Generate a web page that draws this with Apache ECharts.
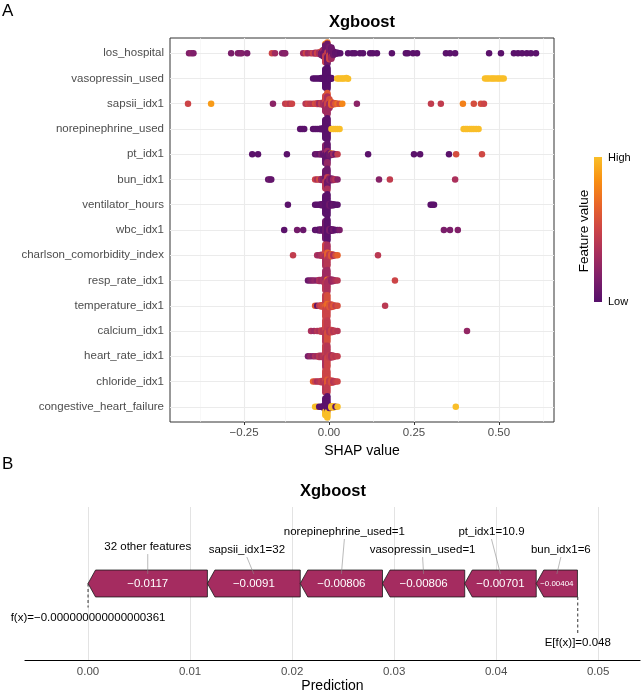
<!DOCTYPE html>
<html>
<head>
<meta charset="utf-8">
<script src="https://cdn.jsdelivr.net/npm/echarts@6/dist/echarts.min.js"></script>
<style>
html, body { margin: 0; padding: 0; background: #fff; }
#main { width: 644px; height: 694px; }
</style>
</head>
<body>
<div id="main"></div>
<script>
// ---- panel A: SHAP beeswarm, each point [shap, featureValue(0..1), count] ----
var features = ['los_hospital', 'vasopressin_used', 'sapsii_idx1', 'norepinephrine_used', 'pt_idx1',
  'bun_idx1', 'ventilator_hours', 'wbc_idx1', 'charlson_comorbidity_index', 'resp_rate_idx1',
  'temperature_idx1', 'calcium_idx1', 'heart_rate_idx1', 'chloride_idx1', 'congestive_heart_failure'];

var losHospital = [
  [-0.412, 0.17], [-0.405, 0.22], [-0.399, 0.17],
  [-0.288, 0.15], [-0.268, 0.18], [-0.262, 0.15], [-0.257, 0.18], [-0.241, 0.15],
  [-0.168, 0.5], [-0.159, 0.3], [-0.138, 0.2], [-0.132, 0.17], [-0.129, 0.2],
  [-0.076, 0.3], [-0.068, 0.5], [-0.062, 0.3],
  [-0.053, 0.35], [-0.047, 0.5], [-0.041, 0.3, 2], [-0.035, 0.5, 2], [-0.029, 0.35, 3],
  [-0.023, 0.55, 2], [-0.023, 0.15, 4], [-0.017, 0.3, 4], [-0.017, 0.1, 5],
  [-0.011, 0.8, 1], [-0.011, 0.1, 10], [-0.011, 0.45, 7],
  [-0.005, 0.75, 1], [-0.005, 0.1, 8], [-0.005, 0.45, 4], [-0.005, 0.1, 7],
  [0.001, 0.15, 9], [0.001, 0.5, 5], [0.007, 0.1, 10], [0.007, 0.3, 3], [0.013, 0.1, 6],
  [0.019, 0.05, 3], [0.025, 0.05, 2],
  [0.033, 0.02], [0.056, 0.02], [0.068, 0.02], [0.076, 0.02], [0.091, 0.02], [0.1, 0.02],
  [0.121, 0.02], [0.129, 0.02], [0.141, 0.02], [0.185, 0.02], [0.226, 0.02], [0.232, 0.02],
  [0.247, 0.02], [0.259, 0.02], [0.344, 0.02], [0.356, 0.02], [0.371, 0.02], [0.471, 0.02],
  [0.506, 0.02], [0.544, 0.02], [0.556, 0.02], [0.568, 0.02], [0.582, 0.02], [0.594, 0.02], [0.609, 0.02]
];
var vasopressinUsed = [
  [-0.047, 0], [-0.041, 0], [-0.035, 0], [-0.029, 0], [-0.023, 0, 2], [-0.017, 0, 2], [-0.011, 0, 18],
  [-0.005, 0, 20], [0.001, 0, 3], [0.007, 0, 2],
  [0.024, 1], [0.029, 1], [0.035, 1], [0.04, 1], [0.045, 1], [0.051, 1], [0.056, 1],
  [0.459, 1], [0.465, 1], [0.471, 1], [0.478, 1], [0.483, 1], [0.489, 1], [0.496, 1], [0.501, 1], [0.508, 1], [0.514, 1]
];
var sapsiiIdx1 = [
  [-0.415, 0.5], [-0.347, 0.88], [-0.165, 0.22], [-0.129, 0.45], [-0.121, 0.5], [-0.115, 0.42], [-0.109, 0.5],
  [-0.069, 0.4], [-0.062, 0.5], [-0.055, 0.45], [-0.047, 0.4], [-0.041, 0.55], [-0.035, 0.5, 2],
  [-0.029, 0.3, 2], [-0.023, 0.45, 3], [-0.017, 0.35, 4], [-0.011, 0.5, 8], [-0.011, 0.3, 8],
  [-0.005, 0.6, 3], [-0.005, 0.35, 6], [-0.005, 0.5, 5], [-0.005, 0.3, 6],
  [0.001, 0.55, 5], [0.001, 0.3, 6], [0.007, 0.65, 5], [0.013, 0.45, 3], [0.019, 0.6, 2],
  [0.025, 0.7], [0.031, 0.55], [0.039, 0.8], [0.082, 0.22],
  [0.3, 0.45], [0.329, 0.45], [0.394, 0.78], [0.426, 0.55], [0.447, 0.55], [0.456, 0.5]
];
var norepinephrineUsed = [
  [-0.085, 0.02], [-0.079, 0.02], [-0.073, 0.02], [-0.047, 0.02], [-0.041, 0.02], [-0.035, 0.02],
  [-0.029, 0.02], [-0.023, 0.02, 2], [-0.017, 0.02, 2], [-0.011, 0.02, 18], [-0.005, 0.02, 20], [0.001, 0.02, 2],
  [0.007, 1], [0.013, 1], [0.019, 1], [0.025, 1], [0.031, 1],
  [0.396, 1], [0.402, 1], [0.407, 1], [0.414, 1], [0.42, 1], [0.426, 1], [0.433, 1], [0.44, 1]
];
var ptIdx1 = [
  [-0.226, 0.02], [-0.209, 0.02], [-0.124, 0.02], [-0.041, 0.05], [-0.035, 0.1], [-0.029, 0.05],
  [-0.023, 0.15, 2], [-0.017, 0.05, 2], [-0.011, 0.2, 8], [-0.011, 0.05, 8],
  [-0.005, 0.05, 6], [-0.005, 0.3, 3], [-0.005, 0.05, 6], [-0.005, 0.25, 3],
  [0.001, 0.1, 4], [0.007, 0.85], [0.007, 0.1, 2], [0.013, 0.3, 2], [0.019, 0.1], [0.025, 0.45],
  [0.115, 0.02], [0.25, 0.02], [0.268, 0.02], [0.353, 0.02], [0.374, 0.55], [0.45, 0.52]
];
var bunIdx1 = [
  [-0.179, 0.05], [-0.174, 0.1], [-0.17, 0.05], [-0.041, 0.5], [-0.035, 0.35], [-0.029, 0.55],
  [-0.023, 0.3, 2], [-0.017, 0.2, 2], [-0.011, 0.1, 8], [-0.011, 0.4, 6],
  [-0.005, 0.1, 6], [-0.005, 0.45, 3], [-0.005, 0.1, 5], [-0.005, 0.35, 2],
  [0.001, 0.2, 3], [0.007, 0.1, 3], [0.013, 0.3, 2], [0.019, 0.4], [0.025, 0.2],
  [0.147, 0.2], [0.179, 0.45], [0.371, 0.35]
];
var ventilatorHours = [
  [-0.121, 0.02], [-0.041, 0.02], [-0.035, 0.02], [-0.029, 0.02], [-0.023, 0.02, 2], [-0.017, 0.05, 2],
  [-0.011, 0.02, 14], [-0.005, 0.02, 16], [0.001, 0.1, 3], [0.007, 0.02, 3], [0.013, 0.05, 2],
  [0.019, 0.02], [0.025, 0.02], [0.299, 0.02], [0.304, 0.02], [0.309, 0.02]
];
var wbcIdx1 = [
  [-0.132, 0.02], [-0.094, 0.12], [-0.076, 0.08], [-0.041, 0.02], [-0.035, 0.05], [-0.029, 0.02, 2],
  [-0.023, 0.1, 2], [-0.017, 0.02, 2], [-0.011, 0.1, 14], [-0.005, 0.02, 16], [0.001, 0.15, 3],
  [0.007, 0.02, 3], [0.013, 0.1, 2], [0.019, 0.02], [0.025, 0.05], [0.031, 0.15],
  [0.338, 0.15], [0.356, 0.15], [0.379, 0.18]
];
var charlsonIndex = [
  [-0.106, 0.45], [-0.035, 0.35], [-0.029, 0.3], [-0.023, 0.35, 2], [-0.017, 0.4, 2],
  [-0.011, 0.5, 7], [-0.011, 0.35, 7],
  [-0.005, 0.35, 5], [-0.005, 0.65, 4], [-0.005, 0.4, 5], [0.001, 0.45, 3], [0.007, 0.6, 3],
  [0.013, 0.35, 2], [0.019, 0.55], [0.025, 0.65], [0.144, 0.42]
];
var respRateIdx1 = [
  [-0.062, 0.08], [-0.055, 0.15], [-0.049, 0.2], [-0.043, 0.25], [-0.035, 0.2], [-0.029, 0.35, 2],
  [-0.023, 0.3, 2], [-0.017, 0.35, 3], [-0.011, 0.3, 7], [-0.011, 0.4, 6],
  [-0.005, 0.3, 6], [-0.005, 0.75], [-0.005, 0.35, 7],
  [0.001, 0.35, 3], [0.007, 0.25, 3], [0.013, 0.3, 2], [0.019, 0.35], [0.025, 0.4], [0.194, 0.5]
];
var temperatureIdx1 = [
  [-0.041, 0.62], [-0.035, 0.05], [-0.029, 0.45], [-0.023, 0.5, 2], [-0.017, 0.55, 2],
  [-0.011, 0.45, 6], [-0.011, 0.62, 2], [-0.011, 0.5, 5],
  [-0.005, 0.55, 5], [-0.005, 0.7, 3], [-0.005, 0.5, 5], [0.001, 0.6, 3], [0.007, 0.5, 3],
  [0.013, 0.6, 2], [0.019, 0.45], [0.025, 0.55], [0.165, 0.42]
];
var calciumIdx1 = [
  [-0.053, 0.35], [-0.044, 0.3], [-0.035, 0.4], [-0.029, 0.35], [-0.023, 0.45, 2], [-0.017, 0.4, 2],
  [-0.011, 0.5, 7], [-0.011, 0.4, 6], [-0.005, 0.45, 7], [-0.005, 0.55, 6], [0.001, 0.4, 3], [0.007, 0.5, 3],
  [0.013, 0.4, 2], [0.019, 0.45], [0.025, 0.4], [0.406, 0.25]
];
var heartRateIdx1 = [
  [-0.062, 0.15], [-0.055, 0.25], [-0.047, 0.2], [-0.041, 0.35], [-0.035, 0.3], [-0.029, 0.4, 2],
  [-0.023, 0.35, 2], [-0.017, 0.4, 2], [-0.011, 0.45, 7], [-0.011, 0.35, 6],
  [-0.005, 0.4, 7], [-0.005, 0.5, 6],
  [0.001, 0.45, 3], [0.007, 0.35, 3], [0.013, 0.45, 2], [0.019, 0.4], [0.025, 0.45]
];
var chlorideIdx1 = [
  [-0.047, 0.65], [-0.041, 0.5], [-0.035, 0.35], [-0.029, 0.4], [-0.023, 0.45, 2], [-0.017, 0.4, 2],
  [-0.011, 0.5, 7], [-0.011, 0.4, 6], [-0.005, 0.5, 5], [-0.005, 0.62, 4], [-0.005, 0.45, 4],
  [0.001, 0.45, 3], [0.007, 0.55, 3], [0.013, 0.4, 2], [0.019, 0.45], [0.025, 0.5]
];
var congestiveHF = [
  [-0.041, 1], [-0.035, 1], [-0.029, 0.02], [-0.023, 0.02], [-0.017, 0.02, 2],
  [-0.011, 0.02, 8], [-0.011, 1, 3],
  [-0.005, 0.02, 9], [-0.005, 1, 4], [0.001, 0.02, 3], [0.007, 1, 2], [0.013, 1, 2],
  [0.019, 0.02], [0.025, 1], [0.373, 1]
];

var shapRows = [losHospital, vasopressinUsed, sapsiiIdx1, norepinephrineUsed, ptIdx1, bunIdx1,
  ventilatorHours, wbcIdx1, charlsonIndex, respRateIdx1, temperatureIdx1, calciumIdx1,
  heartRateIdx1, chlorideIdx1, congestiveHF];

var tickValuesA = [-0.25, 0, 0.25, 0.5];
var minorValuesA = [-0.375, -0.125, 0.125, 0.375, 0.625];

// ---- panel B: force plot ----
var forceLabels = ['32 other features', 'sapsii_idx1=32', 'norepinephrine_used=1',
  'vasopressin_used=1', 'pt_idx1=10.9', 'bun_idx1=6'];
var forceValues = [-0.0117, -0.0091, -0.00806, -0.00806, -0.00701, -0.00404];
var fxValue = -0.000000000000000361;
var baseValue = 0.048;
var fxText = 'f(x)=\u22120.000000000000000361';
var baseText = 'E[f(x)]=0.048';
var tickValuesB = [0, 0.01, 0.02, 0.03, 0.04, 0.05];

// layout of the repelled labels (pixel nudges from arrow middle / top)
var labelNudge = [[0, -23], [-7, -20], [3, -38], [-1, -20], [-9, -38], [4, -20]];
// dashed annotation lines: [lineFrom, lineTo, textAt] px below the arrow middle
var annLayout = [[0, 24, 34], [13.5, 50, 59]];

var FONT = 'Liberation Sans, Arial, sans-serif';
var inferno = ['#56106B', '#7E1F6A', '#A72E5D', '#CC4447', '#E8642A', '#F88E12', '#F9BE28'];

function minus(s) { return String(s).replace('-', '\u2212'); }

// simple deterministic beeswarm: spread points of a bin vertically, width by bin count
var binW = 0.006, beeWidth = 0.42;
function swarm(points, row) {
  var bins = {}, order = [];
  points.forEach(function (p) {
    var n = p[2] || 1;
    for (var k = 0; k < n; k++) {
      var b = Math.round(p[0] / binW);
      if (!bins[b]) { bins[b] = []; order.push(b); }
      bins[b].push(p);
    }
  });
  var cmax = 0;
  order.forEach(function (b) { cmax = Math.max(cmax, bins[b].length); });
  var out = [];
  order.forEach(function (b) {
    var list = bins[b], c = list.length, s = beeWidth * Math.pow(c / cmax, 1.5);
    list.forEach(function (p, i) {
      var off = c === 1 ? 0 : -s + 2 * s * i / (c - 1);
      out.push([p[0], row + off, p[1]]);
    });
  });
  return out;
}

var beeData = [];
shapRows.forEach(function (pts, i) { beeData = beeData.concat(swarm(pts, i + 1)); });

// force arrows built left to right from f(x)
var segs = [];
var cur = fxValue;
forceValues.forEach(function (v, i) {
  var next = cur - v;
  segs.push([cur, next, 0.5, i]);
  cur = next;
});

var measureCtx = document.createElement('canvas').getContext('2d');

var gridMarks = minorValuesA.map(function (v) {
  return { xAxis: v, lineStyle: { color: '#F3F3F3', width: 0.6, type: 'solid' } };
}).concat(tickValuesA.map(function (v) {
  return { xAxis: v, lineStyle: { color: '#EBEBEB', width: 1.1, type: 'solid' } };
})).concat(features.map(function (f, i) {
  return { yAxis: i + 1, lineStyle: { color: '#EBEBEB', width: 1.1, type: 'solid' } };
}));

var chart = echarts.init(document.getElementById('main'), null, { renderer: 'canvas' });

chart.setOption({
  animation: false,
  backgroundColor: '#fff',
  textStyle: { fontFamily: FONT },
  grid: [
    { left: 170, top: 38, width: 384, height: 384, show: true, borderColor: '#333', borderWidth: 1,
      backgroundColor: '#fff', containLabel: false, outerBoundsMode: 'none' },
    { left: 25, top: 507, width: 615, height: 153, show: false, containLabel: false, outerBoundsMode: 'none' }
  ],
  xAxis: [
    {
      gridIndex: 0, type: 'value', min: -0.468, max: 0.662,
      axisLine: { show: false },
      axisTick: { show: true, length: 3, customValues: tickValuesA, lineStyle: { color: '#333' } },
      axisLabel: {
        customValues: tickValuesA, margin: 5, fontSize: 11.5, color: '#4D4D4D', fontFamily: FONT,
        formatter: function (v) { return minus(v.toFixed(2)); }
      },
      splitLine: { show: false },
      name: 'SHAP value', nameLocation: 'middle', nameGap: 17,
      nameTextStyle: { fontSize: 14, color: '#000', fontFamily: FONT }
    },
    {
      gridIndex: 1, type: 'value', min: -0.00618, max: 0.0541,
      axisLine: { show: true, lineStyle: { color: '#000', width: 1.2 } },
      axisTick: { show: false },
      axisLabel: {
        customValues: tickValuesB, margin: 6, fontSize: 11.5, color: '#4D4D4D', fontFamily: FONT,
        formatter: function (v) { return v.toFixed(2); }
      },
      splitLine: { show: false },
      name: 'Prediction', nameLocation: 'middle', nameGap: 19,
      nameTextStyle: { fontSize: 14, color: '#000', fontFamily: FONT }
    }
  ],
  yAxis: [
    {
      gridIndex: 0, type: 'value', min: 0.4, max: 15.6, inverse: true,
      axisLine: { show: false },
      axisTick: { show: true, length: 3, customValues: features.map(function (f, i) { return i + 1; }),
        lineStyle: { color: '#333' } },
      axisLabel: {
        customValues: features.map(function (f, i) { return i + 1; }),
        margin: 6, fontSize: 11.5, color: '#4D4D4D', fontFamily: FONT,
        formatter: function (v) { return features[Math.round(v) - 1] || ''; }
      },
      splitLine: { show: false }
    },
    { gridIndex: 1, type: 'value', min: 0, max: 1, show: false }
  ],
  visualMap: {
    show: false, type: 'continuous', min: 0, max: 1, dimension: 2, seriesIndex: 0,
    inRange: { color: inferno }
  },
  series: [
    {
      type: 'scatter', xAxisIndex: 0, yAxisIndex: 0, symbolSize: 6.5, z: 3,
      itemStyle: { opacity: 1 },
      data: beeData,
      markLine: {
        silent: true, symbol: ['none', 'none'], label: { show: false }, animation: false, z: 1,
        data: gridMarks
      }
    },
    {
      type: 'custom', xAxisIndex: 1, yAxisIndex: 1, z: 3,
      encode: { x: [0, 1], y: 2 },
      data: segs,
      renderItem: function (params, api) {
        var i = params.dataIndex;
        var s = api.value(0), e = api.value(1);
        var top = api.coord([s, 0.588]);
        var bot = api.coord([s, 0.412]);
        var xe = api.coord([e, 0.5])[0];
        var xs = top[0], yt = top[1], yb = bot[1], ym = (yt + yb) / 2;
        var head = 7.5;
        var txt = minus(forceValues[i]);
        measureCtx.font = '11.5px ' + FONT;
        var tw = measureCtx.measureText(txt).width;
        var fs = Math.min(11.5, 11.5 * (xe - xs - 8) / tw);
        var mid = (xs + xe) / 2;
        var nd = labelNudge[i];
        return {
          type: 'group',
          children: [
            { type: 'polygon', shape: { points: [[xs, ym], [xs + head, yt], [xe, yt], [xe, yb], [xs + head, yb]] },
              style: { fill: '#A52C60', stroke: '#1a1a1a', lineWidth: 0.8 } },
            { type: 'text', x: mid, y: ym + 0.5,
              style: { text: txt, fill: '#fff', font: fs + 'px ' + FONT, align: 'center', verticalAlign: 'middle' } },
            { type: 'line', shape: { x1: mid, y1: yt + 4, x2: mid + nd[0], y2: yt + nd[1] + 7 },
              style: { stroke: '#8c8c8c', lineWidth: 0.6 } },
            { type: 'text', x: mid + nd[0], y: yt + nd[1],
              style: { text: forceLabels[i], fill: '#000', font: '11.5px ' + FONT, align: 'center', verticalAlign: 'middle' } }
          ]
        };
      },
      markLine: {
        silent: true, symbol: ['none', 'none'], label: { show: false }, animation: false, z: 1,
        data: tickValuesB.map(function (v) {
          return { xAxis: v, lineStyle: { color: '#E3E3E3', width: 1, type: 'solid' } };
        })
      }
    },
    {
      type: 'custom', xAxisIndex: 1, yAxisIndex: 1, z: 4,
      encode: { x: 0, y: 1 },
      data: [[fxValue, 0.5, 0], [baseValue, 0.5, 1]],
      renderItem: function (params, api) {
        var i = params.dataIndex;
        var p = api.coord([api.value(0), 0.5]);
        var l = annLayout[i];
        return {
          type: 'group',
          children: [
            { type: 'line', shape: { x1: p[0], y1: p[1] + l[0], x2: p[0], y2: p[1] + l[1] },
              style: { stroke: '#333', lineWidth: 1, lineDash: [3, 2.5] } },
            { type: 'text', x: p[0], y: p[1] + l[2],
              style: { text: i === 0 ? fxText : baseText, fill: '#000', font: '11.5px ' + FONT,
                align: 'center', verticalAlign: 'middle' } }
          ]
        };
      }
    }
  ],
  graphic: [
    { type: 'text', x: 2, y: 11, style: { text: 'A', font: '17px ' + FONT, fill: '#000', align: 'left', verticalAlign: 'middle' } },
    { type: 'text', x: 2, y: 464, style: { text: 'B', font: '17px ' + FONT, fill: '#000', align: 'left', verticalAlign: 'middle' } },
    { type: 'text', x: 362, y: 22, style: { text: 'Xgboost', font: 'bold 16.5px ' + FONT, fill: '#000', align: 'center', verticalAlign: 'middle' } },
    { type: 'text', x: 333, y: 491, style: { text: 'Xgboost', font: 'bold 16.5px ' + FONT, fill: '#000', align: 'center', verticalAlign: 'middle' } },
    { type: 'rect', shape: { x: 594, y: 157, width: 8, height: 145 },
      style: { fill: new echarts.graphic.LinearGradient(0, 1, 0, 0, inferno.map(function (c, i) {
        return { offset: i / (inferno.length - 1), color: c };
      })) } },
    { type: 'text', x: 608, y: 158, style: { text: 'High', font: '11px ' + FONT, fill: '#000', align: 'left', verticalAlign: 'middle' } },
    { type: 'text', x: 608, y: 302, style: { text: 'Low', font: '11px ' + FONT, fill: '#000', align: 'left', verticalAlign: 'middle' } },
    { type: 'text', x: 584, y: 231, rotation: Math.PI / 2,
      style: { text: 'Feature value', font: '13.5px ' + FONT, fill: '#000', align: 'center', verticalAlign: 'middle' } }
  ]
});
</script>
</body>
</html>
